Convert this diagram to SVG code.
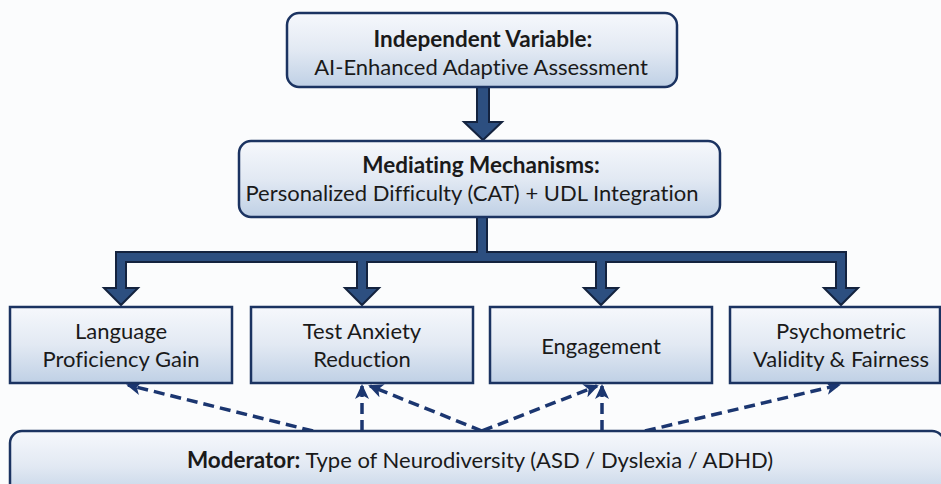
<svg xmlns="http://www.w3.org/2000/svg" width="941" height="484" viewBox="0 0 941 484">
  <defs>
    <linearGradient id="boxfill" x1="0" y1="0" x2="0" y2="1">
      <stop offset="0" stop-color="#f6f8fc"/>
      <stop offset="0.5" stop-color="#e2e9f3"/>
      <stop offset="1" stop-color="#bfd0e5"/>
    </linearGradient>
    <marker id="dashhead" markerUnits="userSpaceOnUse" markerWidth="16" markerHeight="14" refX="13" refY="7" orient="auto">
      <path d="M0,0 L15,7 L0,14 L4,7 Z" fill="#1b3670"/>
    </marker>
    <style>
      .box { fill: url(#boxfill); stroke: #1b3361; stroke-width: 2.5; }
      .t { font-family: Lato, "Open Sans", "Liberation Sans", sans-serif; fill: #1a1a1a; text-anchor: middle; font-size: 22px; font-variant-ligatures: none; }
      .b { font-weight: bold; font-size: 22.5px; }
      .solid { fill: #2d4f80; stroke: #14233f; stroke-width: 2; stroke-linejoin: miter; }
      .dash { fill: none; stroke: #1b3670; stroke-width: 3.5; stroke-dasharray: 11 6; marker-end: url(#dashhead); }
    </style>
  </defs>
  <rect x="0" y="0" width="941" height="484" fill="#fbfcfd"/>

  <g id="connectors">
    <path class="solid" d="M477,87 L477,122 L464,122 L483,140 L502,122 L489,122 L489,87 Z"/>
    <path class="solid" d="M477,217 L477,252 L116,252 L116,288 L104,288 L121,305 L138,288 L126,288 L126,262 L357,262 L357,288 L345,288 L362,305 L379,288 L367,288 L367,262 L596,262 L596,288 L584,288 L601,305 L618,288 L606,288 L606,262 L836,262 L836,288 L824,288 L841,305 L858,288 L846,288 L846,252 L487,252 L487,217 Z"/>
    <path class="dash" d="M313,431 L128,385"/>
    <path class="dash" d="M362,431 L362,386"/>
    <path class="dash" d="M482,431 L370,386"/>
    <path class="dash" d="M482,431 L597,386"/>
    <path class="dash" d="M602,431 L602,386"/>
    <path class="dash" d="M645,431 L839,385"/>
  </g>

  <g id="independent">
    <rect class="box" x="287" y="13" width="390" height="74" rx="12"/>
    <text class="t b" x="483" y="47">Independent Variable:</text>
    <text class="t" x="481" y="75">AI-Enhanced Adaptive Assessment</text>
  </g>

  <g id="mediating">
    <rect class="box" x="239" y="141" width="481" height="76" rx="12"/>
    <text class="t b" x="481" y="173">Mediating Mechanisms:</text>
    <text class="t" x="472" y="201">Personalized Difficulty (CAT) + UDL Integration</text>
  </g>

  <g id="language">
    <rect class="box" x="10" y="307" width="222" height="76"/>
    <text class="t" x="121" y="339">Language</text>
    <text class="t" x="121" y="367">Proficiency Gain</text>
  </g>

  <g id="anxiety">
    <rect class="box" x="251" y="307" width="222" height="76"/>
    <text class="t" x="362" y="339">Test Anxiety</text>
    <text class="t" x="362" y="367">Reduction</text>
  </g>

  <g id="engagement">
    <rect class="box" x="490" y="307" width="222" height="76"/>
    <text class="t" x="601" y="354">Engagement</text>
  </g>

  <g id="psychometric">
    <rect class="box" x="730" y="307" width="210" height="76"/>
    <text class="t" x="841" y="339">Psychometric</text>
    <text class="t" x="841" y="367">Validity &amp; Fairness</text>
  </g>

  <g id="moderator">
    <rect class="box" x="10" y="431" width="934" height="70" rx="12"/>
    <text class="t" x="480" y="468"><tspan class="b">Moderator:</tspan> Type of Neurodiversity (ASD / Dyslexia / ADHD)</text>
  </g>
</svg>
